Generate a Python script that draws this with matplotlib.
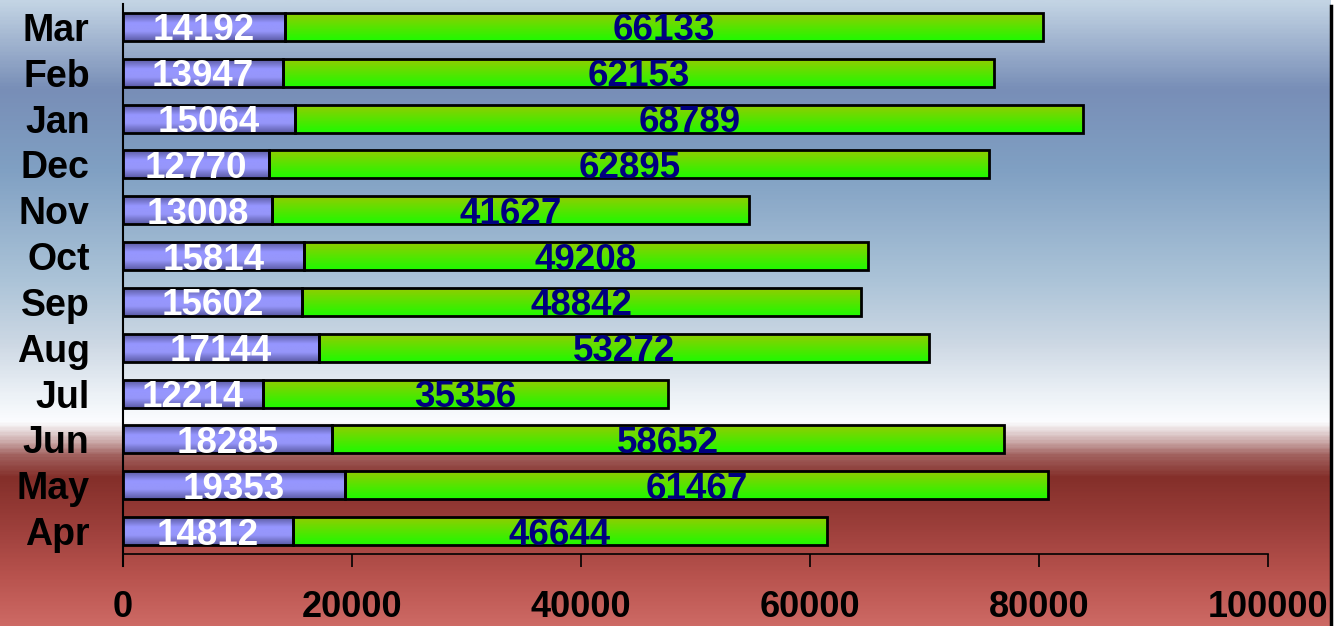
import numpy as np
import matplotlib.pyplot as plt
from matplotlib.colors import LinearSegmentedColormap
from matplotlib.lines import Line2D

plt.rcParams['font.family'] = ['Liberation Sans', 'DejaVu Sans']
plt.rcParams['font.weight'] = 'bold'

# data, bottom to top
months = ['Apr', 'May', 'Jun', 'Jul', 'Aug', 'Sep', 'Oct', 'Nov', 'Dec', 'Jan', 'Feb', 'Mar']
part1 = [14812, 19353, 18285, 12214, 17144, 15602, 15814, 13008, 12770, 15064, 13947, 14192]
part2 = [46644, 61467, 58652, 35356, 53272, 48842, 49208, 41627, 62895, 68789, 62153, 66133]
xticks = [0, 20000, 40000, 60000, 80000, 100000]

W, H = 1338, 626
fig = plt.figure(figsize=(W / 100, H / 100), dpi=100)
fig.patch.set_facecolor('white')

# background gradient (top -> bottom)
bg_stops = [
    (0.00, (195, 212, 228)),
    (0.14, (120, 142, 183)),
    (0.27, (128, 160, 195)),
    (0.45, (172, 196, 216)),
    (0.55, (205, 216, 228)),
    (0.62, (232, 238, 244)),
    (0.675, (252, 253, 255)),
    (0.70, (215, 190, 190)),
    (0.73, (160, 95, 92)),
    (0.765, (132, 47, 42)),
    (0.84, (155, 62, 58)),
    (0.92, (183, 82, 77)),
    (1.00, (205, 105, 100)),
]
bg_cmap = LinearSegmentedColormap.from_list(
    'bg', [(p, tuple(c / 255 for c in col)) for p, col in bg_stops])
bg = fig.add_axes([0, 0, 1331 / W, 1])
bg.imshow(np.linspace(0, 1, 400).reshape(-1, 1), aspect='auto', cmap=bg_cmap,
          extent=[0, 1, 0, 1], origin='upper')
bg.set_axis_off()
fig.add_artist(Line2D([1331 / W, 1331 / W], [0, 0.99], transform=fig.transFigure,
                      color='black', lw=2.5))

ax = fig.add_axes([123 / W, 1 - 554 / H, (1268 - 123) / W, 550 / H])
ax.set_facecolor('none')

purple_cmap = LinearSegmentedColormap.from_list(
    'purple', [(0.0, '#5a5aa0'), (0.35, '#9696ff'), (0.65, '#9696fa'), (1.0, '#5a5aa5')])
green_cmap = LinearSegmentedColormap.from_list('green', ['#91cd00', '#1efa00'])

y = np.arange(len(months))
h = 0.61
b1 = ax.barh(y, part1, height=h, facecolor='none', edgecolor='black', lw=2, zorder=3)
b2 = ax.barh(y, part2, left=part1, height=h, facecolor='none', edgecolor='black', lw=2, zorder=3)

grad = np.linspace(0, 1, 64).reshape(-1, 1)
for bars, cmap in [(b1, purple_cmap), (b2, green_cmap)]:
    for r in bars:
        x0, y0 = r.get_x(), r.get_y()
        im = ax.imshow(grad, aspect='auto', cmap=cmap, origin='upper',
                       extent=[x0, x0 + r.get_width(), y0, y0 + r.get_height()], zorder=2)
        im.set_clip_path(r)

for i in range(len(months)):
    ax.text(part1[i] / 2, y[i], str(part1[i]), ha='center', va='center_baseline',
            color='white', fontsize=26.5, fontweight='bold', zorder=4)
    ax.text(part1[i] + part2[i] / 2, y[i], str(part2[i]), ha='center', va='center_baseline',
            color='#00007f', fontsize=26.5, fontweight='bold', zorder=4)

ax.set_xlim(0, 100000)
ax.set_ylim(-0.5, len(months) - 0.5)
ax.set_xticks(xticks)
ax.set_xticklabels([str(v) for v in xticks])
ax.set_yticks(y)
ax.set_yticklabels(months)
ax.tick_params(axis='x', direction='out', length=9, width=1.2, pad=17, labelsize=26)
ax.tick_params(axis='y', length=0, pad=24, labelsize=27)
for s in ['top', 'right']:
    ax.spines[s].set_visible(False)
ax.spines['bottom'].set_linewidth(1.2)
ax.spines['left'].set_visible(False)
ax.add_line(Line2D([0, 0], [-12 / 550, 1], transform=ax.transAxes, color='black',
                   lw=1.5, clip_on=False))

fig.savefig('out.png', dpi=100)
